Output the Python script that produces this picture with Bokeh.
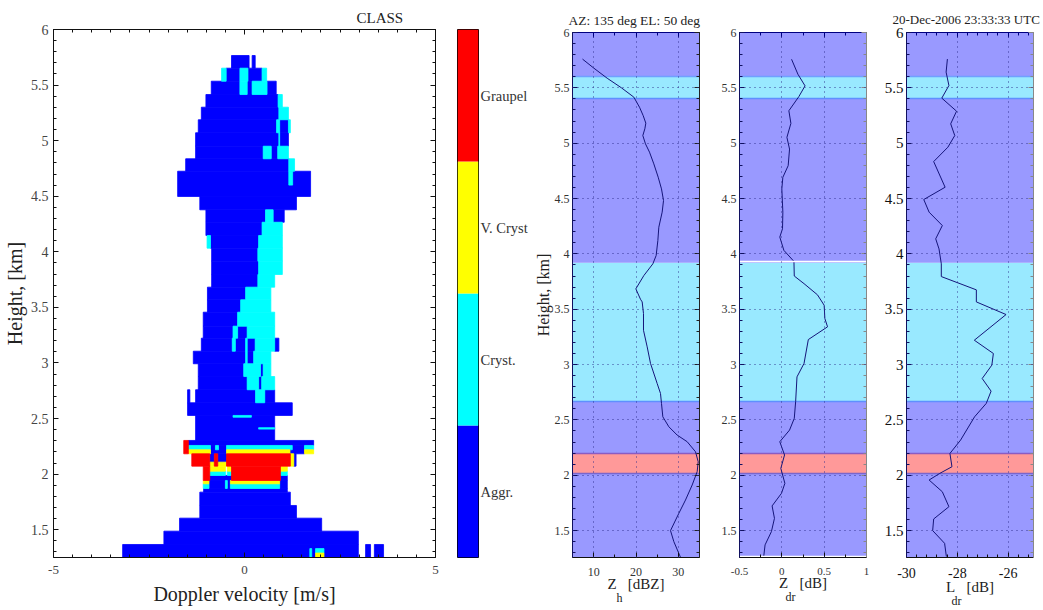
import numpy as np
from bokeh.plotting import figure
from bokeh.layouts import row
from bokeh.embed import file_html
from bokeh.resources import INLINE
from bokeh.models import FixedTicker, LinearAxis, Range1d, CustomLabelingPolicy, Title

# ---- classification: (height bottom, height top, velocity from, velocity to)
aggr_spans = [
 (5.652,5.766,-.34,.12),(5.652,5.766,.20,.28),
 (5.535,5.652,-.48,-.12),(5.535,5.652,.09,.46),
 (5.415,5.535,-.87,-.12),(5.415,5.535,.07,.20),(5.415,5.535,.59,.83),
 (5.301,5.415,-1.01,.88),(5.188,5.301,-1.13,.90),
 (5.071,5.188,-1.21,.84),(5.071,5.188,.92,1.15),
 (4.950,5.071,-1.28,.90),(4.950,5.071,.92,1.15),
 (4.837,4.950,-1.28,.49),(4.837,4.950,.70,.87),
 (4.725,4.837,-1.54,1.16),(4.498,4.725,-1.75,1.73),(4.378,4.498,-1.17,1.36),
 (4.266,4.378,-1.01,.55),(4.266,4.378,.75,1.04),(4.147,4.266,-1.01,.46),
 (4.033,4.147,-.89,.37),(3.916,4.033,-.86,.35),(3.796,3.916,-.86,.37),
 (3.682,3.796,-.86,.35),(3.568,3.682,-.97,.03),(3.457,3.568,-.97,-.10),
 (3.331,3.457,-1.08,-.18),(3.223,3.331,-1.08,-.30),(3.223,3.331,-.18,.07),
 (3.106,3.223,-1.13,-.32),(3.106,3.223,-.24,.03),(3.106,3.223,.07,.28),(3.106,3.223,.79,.90),
 (2.993,3.106,-1.34,.03),(2.993,3.106,.07,.24),
 (2.878,2.993,-1.21,-.02),(2.878,2.993,.42,.49),
 (2.759,2.878,-1.21,.07),(2.759,2.878,.37,.45),
 (2.642,2.759,-1.49,-1.43),(2.642,2.759,-1.28,.29),(2.642,2.759,.53,.79),
 (2.528,2.642,-1.49,1.25),(2.303,2.528,-1.28,.79),
 (2.258,2.303,-1.47,1.81),(2.183,2.258,1.19,1.57),(2.183,2.258,-.89,-.47),
 (2.108,2.183,-.91,-.79),(2.108,2.183,-.70,-.47),(2.072,2.183,1.29,1.35),
 (1.943,1.988,-.91,-.34),(1.943,1.988,.94,1.12),
 (1.871,1.943,-.93,-.50),(1.871,1.943,-.45,-.37),(1.871,1.943,.92,1.12),
 (1.838,1.871,-1.07,1.12),(1.718,1.838,-1.17,1.20),(1.604,1.718,-1.17,1.36),
 (1.487,1.604,-1.70,2.02),(1.367,1.487,-2.11,2.98),(1.25,1.367,-3.19,2.98),
 (1.25,1.367,3.17,3.30),(1.25,1.367,3.40,3.64),
]
cryst_spans = [
 (5.535,5.652,-.60,-.48),(5.535,5.652,-.12,.09),(5.535,5.652,.46,.58),
 (5.415,5.535,-.12,.07),(5.415,5.535,.20,.59),
 (5.301,5.415,.88,.99),(5.188,5.301,.90,1.15),
 (5.071,5.188,.84,.92),(5.071,5.188,1.15,1.20),(4.950,5.071,.90,.92),
 (4.837,4.950,.49,.70),(4.837,4.950,.87,1.15),
 (4.725,4.837,1.16,1.31),(4.60,4.725,1.16,1.26),
 (4.266,4.378,.55,.75),(4.147,4.266,.46,.99),
 (4.033,4.147,-.98,-.89),(4.033,4.147,.37,.99),(3.916,4.033,.35,.99),(3.796,3.916,.37,.99),
 (3.682,3.796,.35,.79),(3.568,3.682,.03,.69),(3.457,3.568,-.10,.69),(3.331,3.457,-.18,.79),
 (3.223,3.331,-.30,-.18),(3.223,3.331,.07,.79),
 (3.106,3.223,-.32,-.24),(3.106,3.223,.03,.07),(3.106,3.223,.28,.79),
 (2.993,3.106,.03,.07),(2.993,3.106,.24,.69),
 (2.878,2.993,-.02,.42),(2.878,2.993,.49,.69),
 (2.759,2.878,.07,.37),(2.759,2.878,.45,.79),(2.642,2.759,.29,.53),
 (2.512,2.528,-.30,.18),(2.405,2.418,.37,.79),
 (2.219,2.258,-1.47,-.89),(2.219,2.258,-.76,-.68),(2.219,2.258,-.47,1.25),(2.219,2.258,1.57,1.81),
 (1.988,2.027,-.91,-.50),(1.988,2.027,-.45,-.34),(1.988,2.027,.94,1.12),
 (1.871,1.913,-1.08,-.93),(1.871,1.943,-.50,-.45),(1.871,1.913,-.37,.92),
 (1.25,1.33,1.71,1.76),(1.29,1.33,1.86,2.08),
]
vcryst_spans = [
 (2.183,2.219,-1.47,-.89),(2.183,2.219,-.47,1.19),(2.183,2.219,1.57,1.81),
 (2.072,2.183,1.20,1.29),(2.072,2.108,-.91,-.79),(2.072,2.108,-.70,-.47),
 (2.027,2.072,-.91,-.50),(2.027,2.072,-.45,-.34),(2.027,2.072,.94,1.12),
 (1.913,1.943,-1.08,-.93),(1.913,1.943,-.37,.92),(1.25,1.29,1.86,2.08),
]
graupel_spans = [
 (2.183,2.303,-1.59,-1.47),(2.072,2.183,-1.38,-.91),(2.072,2.183,-.79,-.70),
 (2.072,2.183,-.47,1.20),(1.943,2.072,-1.08,-.91),(1.943,2.072,-.34,.94),
]
class_names = ["Aggr.", "Cryst.", "V. Cryst", "Graupel"]
class_colors = ["#0000ff", "#00ffff", "#ffff00", "#ff0000"]

# ---- vertical profiles
zh_values = [7.36,10.04,13.19,16.57,19.49,20.83,21.69,22.32,22.09,21.61,22.24,23.19,24.21,25.24,26.02,26.5,26.18,25.39,25.16,24.76,23.98,21.85,19.96,21.06,21.46,21.77,21.77,22.64,23.43,25.0,25.79,26.02,26.34,27.76,29.72,32.09,34.06,34.69,34.45,33.27,31.69,30.12,28.15,28.94,30.51]
zh_heights = [5.76,5.678,5.587,5.5,5.416,5.325,5.25,5.181,5.13,5.069,4.994,4.919,4.813,4.693,4.587,4.482,4.377,4.241,4.12,3.985,3.91,3.804,3.684,3.59,3.566,3.461,3.31,3.16,3.01,2.829,2.739,2.649,2.528,2.438,2.363,2.303,2.212,2.122,2.032,1.912,1.776,1.656,1.5,1.4,1.259]
zdr_values = [.115,.19,.274,.202,.083,.107,.06,.091,.075,.012,0,.012,.008,-.024,.024,.143,.147,.262,.421,.5,.508,.54,.313,.262,.179,.163,.147,.091,-.024,.032,-.012,.036,-.004,-.115,-.087,-.123,-.198,-.214]
zdr_heights = [5.758,5.623,5.518,5.422,5.293,5.179,5.053,4.947,4.797,4.692,4.587,4.377,4.227,4.152,4.032,3.932,3.8,3.731,3.63,3.536,3.416,3.341,3.226,3.01,2.889,2.664,2.514,2.408,2.303,2.183,2.062,1.927,1.837,1.723,1.611,1.491,1.371,1.265]
ldr_values = [-28.39,-28.44,-28.33,-28.61,-28.03,-28.26,-28.1,-28.37,-28.93,-28.48,-29.32,-29.11,-28.59,-28.85,-28.72,-28.63,-28.63,-27.25,-27.25,-26.08,-27.33,-26.58,-26.64,-27.02,-26.67,-26.86,-27.32,-27.87,-28.29,-28.21,-28.69,-29.11,-28.59,-28.33,-28.93,-28.97,-28.5,-28.43]
ldr_heights = [5.76,5.642,5.521,5.407,5.289,5.175,5.069,4.964,4.834,4.602,4.491,4.377,4.256,4.136,4.045,3.91,3.795,3.675,3.566,3.452,3.22,3.1,2.995,2.874,2.76,2.649,2.528,2.318,2.197,2.077,2.017,1.957,1.851,1.716,1.605,1.5,1.385,1.265]

# ---- classified layers shown behind the profiles
zone_bottoms = [1.25, 2.02, 2.20, 2.67, 3.92, 5.40, 5.60]
zone_tops    = [2.02, 2.20, 2.67, 3.92, 5.40, 5.60, 6.00]
zone_colors  = ["#9999ff", "#ff9999", "#9999ff", "#99e9ff", "#9999ff", "#99e9ff", "#9999ff"]
edge_heights = [2.02, 2.20, 2.67, 5.40, 5.60]
edge_colors  = ["#7a66cc", "#8a5cc4", "#5f8fff", "#5f8fff", "#6fa0ff"]

height_labels = {1.5:"1.5", 2:"2", 2.5:"2.5", 3:"3", 3.5:"3.5", 4:"4", 4.5:"4.5", 5:"5", 5.5:"5.5", 6:"6"}
height_ticks = list(height_labels)
height_minor = [round(1.3 + 0.1 * i, 1) for i in range(48)]

FONT = "Liberation Serif"
NB = "\u00a0"


def hidden_axis(ticker, color, side, p):
    ax = LinearAxis(ticker=ticker, major_tick_in=5, major_tick_out=0, minor_tick_in=3, minor_tick_out=0,
                    axis_line_color=color, major_tick_line_color=color, minor_tick_line_color=color,
                    major_label_standoff=0, major_label_text_font_size="0px",
                    major_label_policy=CustomLabelingPolicy(code="return []"))
    p.add_layout(ax, side)


def style_axis(ax, color, size, tcolor):
    ax.major_tick_in = 5
    ax.major_tick_out = 0
    ax.minor_tick_in = 3
    ax.minor_tick_out = 0
    ax.axis_line_color = color
    ax.major_tick_line_color = color
    ax.minor_tick_line_color = color
    ax.major_label_text_font = FONT
    ax.major_label_text_font_size = size
    ax.major_label_text_color = tcolor


def note(p, text, offset, side, size, standoff):
    p.add_layout(Title(text=text, align="left", offset=offset, standoff=standoff, text_font=FONT, text_font_size=size,
                       text_font_style="normal", text_color="#222222"), side)


# ---- left panel
p1 = figure(output_backend="svg", toolbar_location=None, frame_width=382, frame_height=528,
            x_range=Range1d(-5, 5), y_range=Range1d(1.25, 6), min_border_left=53, min_border_right=10,
            min_border_top=29, min_border_bottom=50, outline_line_color=None)
p1.grid.visible = False
for spans, color in zip([aggr_spans, cryst_spans, vcryst_spans, graupel_spans], class_colors):
    arr = np.array(spans)
    p1.quad(bottom=arr[:, 0], top=arr[:, 1], left=arr[:, 2], right=arr[:, 3],
            fill_color=color, line_color=color, line_width=0.8)
x_ticker = FixedTicker(ticks=[-5, 0, 5], minor_ticks=[-5 + 0.5 * i for i in range(21)])
y_ticker = FixedTicker(ticks=height_ticks, minor_ticks=height_minor)
p1.xaxis.ticker = x_ticker
p1.xaxis.major_label_overrides = {-5: "-5", 0: "0", 5: "5"}
p1.yaxis.ticker = y_ticker
p1.yaxis.major_label_overrides = height_labels
style_axis(p1.xaxis[0], "#111111", "13px", "#444444")
style_axis(p1.yaxis[0], "#111111", "14px", "#444444")
p1.xaxis.axis_label = "Doppler velocity [m/s]"
p1.yaxis.axis_label = "Height, [km]"
for ax in (p1.xaxis[0], p1.yaxis[0]):
    ax.axis_label_text_font = FONT
    ax.axis_label_text_font_style = "normal"
    ax.axis_label_text_font_size = "20px"
    ax.axis_label_text_color = "#222222"
    ax.major_label_standoff = 5
p1.xaxis.major_label_standoff = 8
p1.xaxis.axis_label_standoff = 6
p1.yaxis.axis_label_standoff = 2
hidden_axis(x_ticker, "#111111", "above", p1)
hidden_axis(y_ticker, "#111111", "right", p1)
note(p1, "CLASS", 303, "above", "15px", 7)

# ---- colour bar
cb = figure(output_backend="svg", toolbar_location=None, frame_width=21, frame_height=528,
            x_range=Range1d(0, 1), y_range=Range1d(0, 4), min_border_left=12, min_border_right=53,
            min_border_top=29, min_border_bottom=50, outline_line_color="#000000", y_axis_location="right")
cb.grid.visible = False
cb.xaxis.visible = False
cb.quad(left=0, right=1, bottom=list(range(4)), top=[i + 1 for i in range(4)], fill_color=class_colors, line_color=None)
cb.yaxis.ticker = FixedTicker(ticks=[0.5, 1.5, 2.5, 3.5], minor_ticks=[])
cb.yaxis.major_label_overrides = {i + 0.5: n for i, n in enumerate(class_names)}
cb.yaxis.major_tick_line_color = None
cb.yaxis.major_tick_out = 0
cb.yaxis.major_tick_in = 0
cb.yaxis.axis_line_color = None
cb.yaxis.major_label_text_font = FONT
cb.yaxis.major_label_text_font_size = "14.5px"
cb.yaxis.major_label_text_color = "#333333"
cb.yaxis.major_label_standoff = 2


def profile(values, heights, xr, xticks, xminor, xlabels, left, right_border, ylabel, ysize, xsize, tcolor,
            right_color, xlabel, label_gap, top_color="#000080"):
    p = figure(output_backend="svg", toolbar_location=None, frame_width=127, frame_height=525,
               x_range=Range1d(*xr), y_range=Range1d(1.257, 6), min_border_left=left, min_border_right=right_border,
               min_border_top=29, min_border_bottom=50, outline_line_color=None, margin=(3, 0, 0, 0))
    p.quad(left=xr[0], right=xr[1], bottom=zone_bottoms, top=zone_tops, fill_color=zone_colors, line_color=None)
    p.hspan(y=edge_heights, line_color=edge_colors, line_width=1.5)
    xt = FixedTicker(ticks=xticks, minor_ticks=xminor)
    yt = FixedTicker(ticks=height_ticks, minor_ticks=height_minor)
    p.xaxis.ticker = xt
    p.xaxis.major_label_overrides = xlabels
    p.yaxis.ticker = yt
    p.yaxis.major_label_overrides = height_labels
    style_axis(p.xaxis[0], "#111111", xsize, tcolor)
    style_axis(p.yaxis[0], "#101060", ysize, tcolor)
    p.xaxis.major_label_standoff = 10
    p.yaxis.major_label_standoff = 3
    p.xaxis.axis_label = xlabel
    p.xaxis.axis_label_standoff = label_gap
    p.xaxis.axis_label_text_font = FONT
    p.xaxis.axis_label_text_font_style = "normal"
    p.xaxis.axis_label_text_font_size = "15px"
    p.xaxis.axis_label_text_color = "#222222"
    for g, tk in ((p.xgrid[0], xt), (p.ygrid[0], yt)):
        g.ticker = tk
        g.grid_line_color = "#2a2a8a"
        g.grid_line_dash = "1 4"
        g.grid_line_width = 1
        g.grid_line_alpha = 0.9
        g.level = "overlay"
    p.line(values, heights, line_color="#15157a", line_width=1)
    if ylabel:
        p.yaxis.axis_label = ylabel
        ax = p.yaxis[0]
        ax.axis_label_text_font = FONT
        ax.axis_label_text_font_style = "normal"
        ax.axis_label_text_font_size = "16px"
        ax.axis_label_text_color = "#222222"
        ax.axis_label_standoff = 0
    hidden_axis(xt, top_color, "above", p)
    hidden_axis(yt, right_color, "right", p)
    return p


p2 = profile(zh_values, zh_heights, (5, 35), [10, 20, 30], [5 * i for i in range(1, 8)],
             {10: "10", 20: "20", 30: "30"}, 40, 8, "Height, [km]", "12px", "12px", "#333333", "#222222",
             "Z" + NB * 3 + "[dBZ]", -3)
note(p2, "AZ: 135 deg  EL: 50 deg", -4, "above", "13.5px", 9)
note(p2, "h", 44, "below", "12px", -11)

p3 = profile(zdr_values, zdr_heights, (-0.5, 1), [-0.5, 0, 0.5, 1], [-0.5 + 0.25 * i for i in range(7)],
             {-0.5: "-0.5", 0: "0", 0.5: "0.5", 1: "1"}, 32, 8, None, "12px", "11px", "#333333", "#888888",
             "Z" + NB * 3 + "[dB]", -3)
p3.hspan(y=[3.93, 1.262], line_color="#ffffff", line_width=1.5)
note(p3, "dr", 46, "below", "12px", -11)

p4 = profile(ldr_values, ldr_heights, (-30, -25), [-30, -28, -26], [-30 + 0.4 * i for i in range(13)],
             {-30: "-30", -28: "-28", -26: "-26"}, 32, 9, None, "15px", "14px", "#111111", "#888888",
             "L" + NB * 3 + "[dB]", -2)
note(p4, "dr", 45, "below", "12px", -11)
note(p4, "20-Dec-2006 23:33:33 UTC", -14, "above", "13px", 12)

layout = row(p1, cb, p2, p3, p4, spacing=0)
open("out.html", "w").write(file_html(layout, INLINE))
